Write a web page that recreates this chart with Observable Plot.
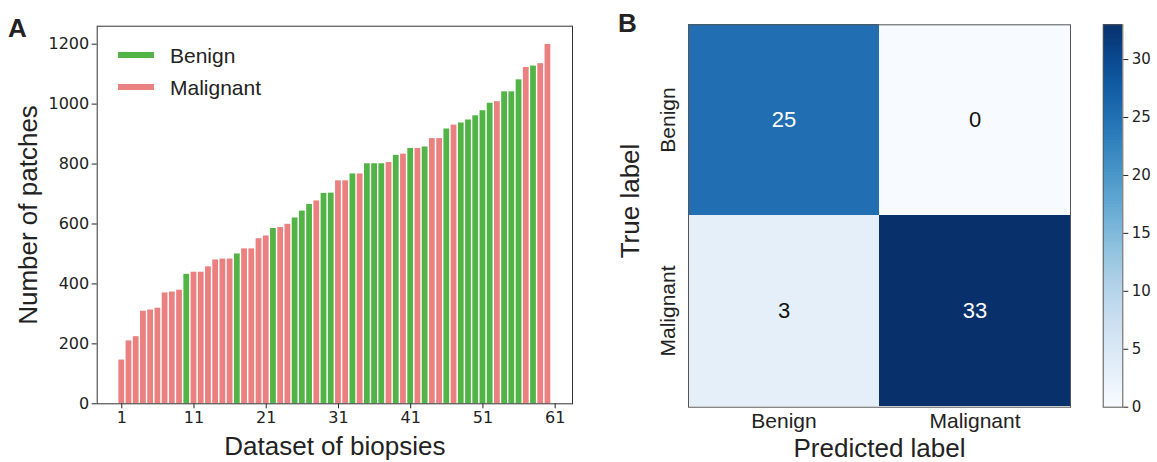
<!DOCTYPE html>
<html><head><meta charset="utf-8">
<script src="https://cdn.jsdelivr.net/npm/d3@7"></script>
<script src="https://cdn.jsdelivr.net/npm/@observablehq/plot@0.6"></script>
<style>
body{margin:0;background:#fff;}
#wrap{position:relative;width:1157px;height:462px;overflow:hidden;font-family:"Liberation Sans",Arial,sans-serif;color:#222;}
.abs{position:absolute;}
.letter{font-weight:bold;font-size:26px;line-height:1;}
.leg{position:absolute;font-size:21px;line-height:1;}
.sw{position:absolute;width:36px;height:6px;}
</style></head><body><div id="wrap"></div>
<script>
// ---- Panel A data ----
const datasetIds = [1,2,3,4,5,6,7,8,9,10,11,12,13,14,15,16,17,18,19,20,21,22,23,24,25,26,27,28,29,30,
  31,32,33,34,35,36,37,38,39,40,41,42,43,44,45,46,47,48,49,50,51,52,53,54,55,56,57,58,59,60];
const patchCounts = [146,210,224,309,313,319,370,373,379,432,439,439,457,480,483,483,500,517,517,551,
  560,585,588,599,620,643,665,677,702,703,744,744,767,767,801,801,801,805,829,833,
  852,852,857,885,885,917,930,937,947,961,978,1003,1008,1041,1041,1081,1122,1127,1135,1199];
const biopsyClass = ["Malignant","Malignant","Malignant","Malignant","Malignant","Malignant","Malignant","Malignant","Malignant","Benign",
  "Malignant","Malignant","Malignant","Malignant","Malignant","Malignant","Benign","Malignant","Malignant","Malignant",
  "Malignant","Benign","Malignant","Malignant","Benign","Benign","Benign","Malignant","Benign","Benign",
  "Malignant","Malignant","Benign","Malignant","Benign","Benign","Benign","Malignant","Benign","Malignant",
  "Benign","Malignant","Benign","Malignant","Malignant","Benign","Malignant","Benign","Benign","Benign",
  "Benign","Benign","Malignant","Benign","Benign","Benign","Malignant","Benign","Malignant","Malignant"];
const xTicksA = [1,11,21,31,41,51,61];
const yTicksA = [0,200,400,600,800,1000,1200];
const classNames = ["Benign","Malignant"];
const classColors = ["#52b447","#ea8080"];

// ---- Panel B data ----
const trueLabels = ["Benign","Benign","Malignant","Malignant"];
const predLabels = ["Benign","Malignant","Benign","Malignant"];
const cmCounts = [25,0,3,33];
const cbarTicks = [0,5,10,15,20,25,30];

const rowsA = datasetIds.map((id,i)=>({id, n: patchCounts[i], cls: biopsyClass[i]}));
const rowsB = cmCounts.map((c,i)=>({t: trueLabels[i], p: predLabels[i], c}));

const wrap = document.getElementById("wrap");
function place(el, x, y){ el.classList.add("abs"); el.style.left = x+"px"; el.style.top = y+"px"; wrap.appendChild(el); }

const titleFont = "Liberation Sans, Arial, sans-serif";

const A = Plot.plot({
  width: 590, height: 462,
  marginLeft: 96.7, marginRight: 18, marginTop: 25.7, marginBottom: 58.7,
  style: {fontFamily: "DejaVu Sans", fontSize: "16px", color: "#222", background: "transparent", overflow: "visible"},
  x: {type: "linear", domain: [-2.4, 63.4], ticks: xTicksA, tickSize: 5, tickPadding: 3, label: null, tickFormat: d => String(d)},
  y: {domain: [0, 1260], ticks: yTicksA, tickSize: 5, tickPadding: 3, label: null, tickFormat: d => String(d)},
  color: {domain: classNames, range: classColors},
  marks: [
    Plot.rect(rowsA, {x1: d => d.id - 0.4, x2: d => d.id + 0.4, y1: 0, y2: "n", fill: "cls"}),
    Plot.frame({stroke: "#333", strokeWidth: 1}),
    Plot.text(["Number of patches"], {text: d => d, frameAnchor: "left", textAnchor: "middle", lineAnchor: "middle", dx: -68.7, rotate: -90, fontSize: 26, fontFamily: titleFont, fill: "#222"}),
    Plot.text(["Dataset of biopsies"], {text: d => d, frameAnchor: "bottom", lineAnchor: "middle", dy: 43, fontSize: 26, fontFamily: titleFont, fill: "#222"})
  ]
});
place(A, 0, 0);

const B = Plot.plot({
  width: 557, height: 462,
  marginLeft: 88, marginRight: 87, marginTop: 24.3, marginBottom: 55.3,
  style: {fontFamily: titleFont, fontSize: "21px", color: "#222", background: "transparent", overflow: "visible"},
  x: {domain: classNames, padding: 0, tickSize: 0, tickPadding: 6, label: null},
  y: {domain: classNames, padding: 0, axis: null},
  color: {type: "linear", scheme: "blues", domain: [0, 33]},
  marks: [
    Plot.cell(rowsB, {x: "p", y: "t", fill: "c", inset: 0}),
    Plot.frame({stroke: "#555", strokeWidth: 1}),
    Plot.text(rowsB.filter(d => d.c > 16.5), {x: "p", y: "t", text: d => String(d.c), fill: "white", fontSize: 22}),
    Plot.text(rowsB.filter(d => d.c <= 16.5), {x: "p", y: "t", text: d => String(d.c), fill: "#111", fontSize: 22}),
    Plot.text(classNames, {y: d => d, text: d => d, frameAnchor: "left", textAnchor: "middle", lineAnchor: "middle", dx: -20, rotate: -90, fontSize: 21, fill: "#222"}),
    Plot.text(["True label"], {text: d => d, frameAnchor: "left", textAnchor: "middle", lineAnchor: "middle", dx: -58, dy: -15, rotate: -90, fontSize: 26, fill: "#222"}),
    Plot.text(["Predicted label"], {text: d => d, frameAnchor: "bottom", lineAnchor: "middle", dy: 41, fontSize: 26, fill: "#222"})
  ]
});
place(B, 600, 0);

const stops = d3.range(0, 33, 0.25);
const C = Plot.plot({
  width: 57, height: 462,
  marginLeft: 2.7, marginRight: 34.7, marginTop: 24.3, marginBottom: 55.3,
  style: {fontFamily: "DejaVu Sans", fontSize: "15px", color: "#222", background: "transparent", overflow: "visible"},
  x: {domain: [0, 1], axis: null},
  y: {domain: [0, 33], axis: "right", ticks: cbarTicks, tickSize: 5, tickPadding: 4, label: null, tickFormat: d => String(d)},
  color: {type: "linear", scheme: "blues", domain: [0, 33]},
  marks: [
    Plot.rect(stops, {x1: 0, x2: 1, y1: d => d, y2: d => Math.min(33, d + 0.6), fill: d => d, shapeRendering: "crispEdges"}),
    Plot.frame({stroke: "#555", strokeWidth: 1})
  ]
});
place(C, 1100, 0);

// Panel letters
const la = document.createElement("div"); la.className = "letter"; la.textContent = "A"; place(la, 8, 15);
const lb = document.createElement("div"); lb.className = "letter"; lb.textContent = "B"; place(lb, 618, 10);

// Legend for panel A
classNames.forEach((name, i) => {
  const sw = document.createElement("div"); sw.className = "sw"; sw.style.background = classColors[i];
  place(sw, 118, 52 + i * 32);
  const t = document.createElement("div"); t.className = "leg"; t.textContent = name;
  place(t, 170, 45 + i * 32);
});
</script></body></html>
